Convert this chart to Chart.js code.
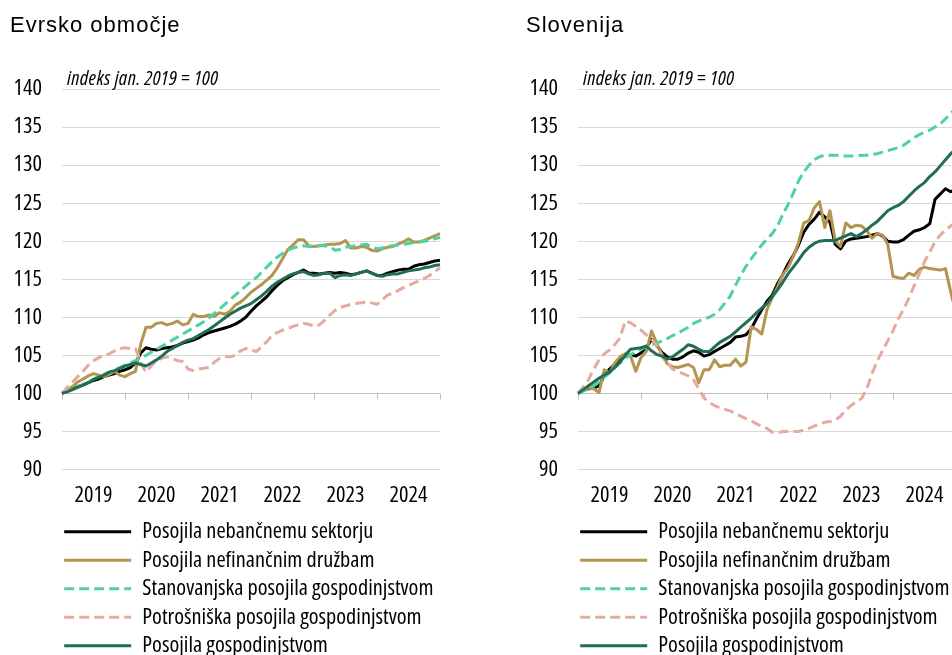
<!DOCTYPE html>
<html lang="sl">
<head>
<meta charset="utf-8">
<title>Posojila - indeks jan. 2019 = 100</title>
<script src="https://cdn.jsdelivr.net/npm/chart.js@4.4.1/dist/chart.umd.min.js"></script>
<style>
  html, body { margin: 0; padding: 0; background: #fff; overflow: hidden; }
  .panel { position: absolute; top: 0; width: 516px; height: 667px; }
  #euro { left: 0; }
  #slo { left: 516px; }
</style>
</head>
<body>
<div class="panel" id="euro"><canvas id="euroChart" width="516" height="667"></canvas></div>
<div class="panel" id="slo"><canvas id="sloChart" width="516" height="667"></canvas></div>
<script>
// series names (legend order)
var seriesNames = [
  'Posojila nebančnemu sektorju',
  'Posojila nefinančnim družbam',
  'Stanovanjska posojila gospodinjstvom',
  'Potrošniška posojila gospodinjstvom',
  'Posojila gospodinjstvom'
];

// monthly categories, jan 2019 - jan 2025
var years = ['2019', '2020', '2021', '2022', '2023', '2024', '2025'];
var months = [];
years.forEach(function (y) {
  for (var m = 1; m <= 12; m++) months.push(y + '-' + (m < 10 ? '0' : '') + m);
});
months = months.slice(0, 73);

var yTicks = { min: 90, max: 140, step: 5 };

// Evrsko območje
var euroTotal = [
  100.0, 100.3, 100.6, 100.9, 101.1, 101.4, 101.7, 101.9, 102.2, 102.4, 102.6, 102.9,
  103.1, 103.4, 104.0, 105.3, 106.0, 105.8, 105.7, 105.9, 106.0, 106.1, 106.3, 106.6,
  106.8, 107.0, 107.3, 107.7, 108.0, 108.2, 108.4, 108.6, 108.8, 109.1, 109.5, 110.0,
  110.8, 111.5, 112.1, 112.7, 113.5, 114.2, 114.8, 115.2, 115.6, 115.9, 116.2, 115.8,
  115.8, 115.7, 115.8, 115.9, 115.8, 115.9, 115.8, 115.6, 115.7, 115.9, 116.1, 115.8,
  115.5, 115.5, 115.8, 116.0, 116.2, 116.3, 116.3, 116.7, 116.9, 117.0, 117.2, 117.4,
  117.5
];
var euroNfc = [
  100.0, 100.5, 100.9, 101.5, 101.9, 102.3, 102.6, 102.4, 102.2, 102.5, 102.9, 102.4,
  102.2, 102.6, 102.9, 106.5, 108.7, 108.7, 109.2, 109.3, 109.0, 109.2, 109.5, 109.0,
  109.2, 110.4, 110.1, 110.1, 110.3, 110.1, 110.6, 110.4, 110.8, 111.6, 112.0, 112.6,
  113.3, 113.8, 114.3, 114.9, 115.5, 116.5, 117.7, 118.9, 119.5, 120.2, 120.2, 119.4,
  119.3, 119.4, 119.5, 119.6, 119.6, 119.7, 120.1, 119.1, 119.1, 119.3, 119.2, 118.8,
  118.7, 119.0, 119.2, 119.3, 119.6, 119.9, 120.3, 119.9, 119.9, 120.1, 120.4, 120.7,
  121.0
];
var euroHousing = [
  100.0, 100.3, 100.6, 100.9, 101.2, 101.5, 101.9, 102.2, 102.5, 102.8, 103.1, 103.4,
  103.7, 104.0, 104.3, 104.7, 105.0, 105.4, 105.8, 106.2, 106.6, 107.0, 107.4, 107.8,
  108.2, 108.6, 109.0, 109.4, 109.9, 110.5, 111.1, 111.7, 112.3, 112.9, 113.5, 114.1,
  114.7, 115.2, 115.9, 116.6, 117.3, 117.9, 118.4, 118.8, 119.1, 119.3, 119.4, 119.3,
  119.3, 119.4, 119.4, 119.3, 118.8, 118.9, 119.2, 119.3, 119.4, 119.5, 119.6, 119.2,
  119.0, 119.1, 119.3, 119.4, 119.5, 119.6, 119.7, 119.8, 119.9, 120.0, 120.1, 120.3,
  120.5
];
var euroConsumer = [
  100.0, 100.8, 101.5, 102.2, 102.9, 103.7, 104.3, 104.7, 105.0, 105.2, 105.6, 105.9,
  106.0, 105.9, 105.9, 104.0, 102.8, 103.6, 104.3, 104.6, 104.8, 104.6, 104.3, 104.2,
  103.2, 103.0, 103.2, 103.3, 103.4, 104.1, 104.6, 104.8, 104.8, 105.0, 105.6, 105.9,
  105.7, 105.5, 106.1, 106.8, 107.6, 108.0, 108.3, 108.5, 108.8, 109.0, 109.2, 109.1,
  108.8, 109.0, 109.6, 110.3, 110.9, 111.3, 111.5, 111.7, 111.8, 111.9, 112.0, 111.9,
  111.7, 112.3, 112.9, 113.2, 113.5, 113.9, 114.2, 114.5, 114.8, 115.1, 115.5, 116.0,
  116.5
];
var euroHouseholds = [
  100.0, 100.2, 100.5, 100.8, 101.1, 101.4, 101.8, 102.1, 102.4, 102.8, 103.0, 103.3,
  103.6, 103.8, 104.0, 103.8, 103.6, 104.0, 104.4, 104.9, 105.5, 105.9, 106.3, 106.7,
  107.0, 107.2, 107.6, 108.0, 108.4, 108.9, 109.4, 109.9, 110.4, 110.8, 111.2, 111.5,
  111.8, 112.3, 112.8, 113.4, 114.1, 114.6, 115.0, 115.4, 115.7, 115.9, 116.0, 115.7,
  115.5, 115.6, 115.8, 115.8, 115.2, 115.5, 115.6, 115.5, 115.7, 115.9, 116.1, 115.8,
  115.5, 115.4, 115.6, 115.7, 115.7, 115.9, 116.1, 116.2, 116.3, 116.5, 116.6, 116.8,
  116.9
];

// Slovenija
var sloTotal = [
  100.0, 100.4, 100.6, 100.7, 101.0, 102.3, 103.2, 103.8, 104.4, 104.9, 105.1, 104.9,
  105.3, 106.0, 107.1, 106.3, 105.4, 104.8, 104.5, 104.5, 104.8, 105.3, 105.6, 105.4,
  104.9, 105.1, 105.5, 105.9, 106.3, 106.7, 107.4, 107.5, 107.7, 108.5, 109.8, 111.0,
  112.1, 112.9, 114.4, 115.6, 117.0, 118.1, 119.5, 121.2, 122.2, 122.9, 123.8, 123.2,
  122.5, 119.6, 119.0, 120.0, 120.3, 120.4, 120.5, 120.6, 120.8, 121.0, 120.7, 120.0,
  119.9, 119.9, 120.2, 120.8, 121.3, 121.5, 121.8, 122.3, 125.5, 126.2, 126.9, 126.5,
  126.8
];
var sloNfc = [
  100.0, 100.5, 100.7, 100.6, 100.1, 103.1, 102.7, 104.0, 104.8, 105.2, 104.9, 102.9,
  104.7, 105.5, 108.2, 106.6, 105.1, 103.9, 103.5, 103.4, 103.6, 103.8, 103.4, 101.4,
  103.1, 103.1, 104.4, 103.5, 103.7, 103.7, 104.5, 103.6, 104.1, 108.8, 108.4, 107.8,
  111.0, 112.6, 114.0, 115.6, 116.5, 118.0, 119.8, 122.4, 122.7, 124.4, 125.2, 121.8,
  124.0, 120.0, 119.3, 122.4, 121.8, 122.1, 122.0, 121.4, 120.4, 121.0, 120.8, 119.6,
  115.4, 115.2, 115.1, 115.8, 115.5, 116.3, 116.6, 116.4, 116.3, 116.2, 116.4, 113.3,
  110.5
];
var sloHousing = [
  100.0, 100.3, 100.6, 101.0, 101.5, 102.1, 102.7, 103.4, 104.0, 104.6, 105.1, 105.5,
  105.8, 106.1, 106.4, 106.6, 106.9, 107.2, 107.6, 107.9, 108.3, 108.7, 109.2, 109.5,
  109.8, 110.0, 110.4, 111.0, 111.9, 112.8, 114.2, 115.5, 116.7, 117.7, 118.6, 119.5,
  120.3, 121.0, 122.0, 123.5, 124.8, 126.3, 127.9, 129.1, 130.0, 130.7, 131.1, 131.3,
  131.3, 131.3, 131.3, 131.2, 131.2, 131.2, 131.3, 131.3, 131.4, 131.5, 131.7, 131.9,
  132.1, 132.3, 132.6, 133.1, 133.6, 134.0, 134.3, 134.6, 135.0, 135.4, 136.1, 136.8,
  137.5
];
var sloConsumer = [
  100.0, 100.9, 101.8, 103.2, 104.4, 105.2, 105.7, 106.4, 107.3, 109.5, 109.3, 108.8,
  108.3, 107.7, 107.2, 106.2, 104.8, 104.0, 103.2, 102.9, 102.6, 102.3, 101.8, 100.6,
  99.4, 98.8, 98.4, 98.1, 97.9, 97.7, 97.3, 97.0, 96.7, 96.4, 96.0, 95.7,
  95.4, 94.9, 94.8, 95.0, 95.0, 95.0, 95.0, 95.2, 95.4, 95.7, 96.0, 96.2,
  96.3, 96.5, 97.0, 97.8, 98.4, 98.9, 99.3, 100.6, 102.6, 104.3, 105.6, 106.9,
  108.2, 109.8, 111.0, 112.5, 114.1, 115.7, 117.3, 118.6, 119.9, 120.8, 121.5, 122.0,
  122.5
];
var sloHouseholds = [
  100.0, 100.5, 101.0, 101.5, 102.0, 102.4, 102.8, 103.4, 104.1, 105.0, 105.8, 105.9,
  106.0, 106.2, 105.6, 105.1, 104.9, 104.5, 104.8, 105.3, 105.8, 106.4, 106.2, 105.8,
  105.5, 105.5, 106.1, 106.7, 107.1, 107.5, 108.1, 108.7, 109.3, 109.9, 110.6, 111.2,
  111.8, 112.7, 113.6, 114.6, 115.7, 116.6, 117.5, 118.5, 119.2, 119.7, 120.0, 120.1,
  120.1, 120.1, 120.4, 120.7, 121.0, 120.6, 121.0, 121.5, 122.1, 122.6, 123.3, 124.0,
  124.4, 124.7, 125.2, 125.9, 126.6, 127.2, 127.7, 128.5, 129.1, 129.9, 130.7, 131.5,
  132.1
];

// the original uses a narrow sans (Arial Narrow); pick a condensed face if one is installed
// and size it so the text keeps the original width
function pickNarrow() {
  var c = document.createElement('canvas').getContext('2d');
  var sample = 'Posojila nebančnemu sektorju 2019';
  c.font = "100px 'Liberation Sans', monospace";
  var base = c.measureText(sample).width;
  var cands = [
    ["'Liberation Sans Narrow'", ''],
    ["'Arial Narrow'", ''],
    ["'Liberation Sans'", 'condensed'],
    ["'Roboto Condensed'", ''],
    ['Roboto', 'condensed'],
    ["'Noto Sans'", 'condensed'],
    ["'Open Sans'", 'condensed'],
    ["'DejaVu Sans Condensed'", ''],
    ["'DejaVu Sans'", 'condensed']
  ];
  for (var i = 0; i < cands.length; i++) {
    c.font = 'normal normal ' + (cands[i][1] ? cands[i][1] + ' ' : '') + '100px ' + cands[i][0] + ', monospace';
    var r = c.measureText(sample).width / base;
    if (r > 0.7 && r < 0.88) return { family: cands[i][0], stretch: cands[i][1], ratio: r };
  }
  return { family: "'Liberation Sans'", stretch: '', ratio: 1 };
}

var nf = pickNarrow();
var narrow = nf.family + ", 'Liberation Sans', Arial, sans-serif";
var fontWeight = nf.stretch ? 'normal ' + nf.stretch : null;
var fontScale = Math.min(1.1, 0.82 / nf.ratio);
var fs = function (px) { return Math.round(px * fontScale * 10) / 10; };
var legendRow = 28.5;

var colors = ['#000000', '#b39451', '#4fd2a1', '#e6aaa1', '#1f6e55'];
var dashes = [[], [], [10, 5], [10, 5], []];

Chart.defaults.font.family = narrow;
Chart.defaults.font.weight = fontWeight;
Chart.defaults.color = '#000';

// panel title, index note, year tick marks on the 100 line, legend offset
var panelText = {
  id: 'panelText',
  afterLayout: function (chart) {
    var lg = chart.legend;
    lg.left = chart.chartArea.left - 4;
    lg.right = chart.width;
    lg.width = lg.right - lg.left;
  },
  beforeDatasetsDraw: function (chart) {
    var ctx = chart.ctx, x = chart.scales.x, y = chart.scales.y;
    var y100 = Math.round(y.getPixelForValue(100)) + 0.5;
    ctx.save();
    ctx.strokeStyle = '#bfbfbf';
    ctx.lineWidth = 1;
    ctx.beginPath();
    months.forEach(function (m, i) {
      if (i % 12 === 0) {
        var px = Math.round(x.getPixelForValue(i)) + 0.5;
        ctx.moveTo(px, y100);
        ctx.lineTo(px, y100 + 6);
      }
    });
    ctx.stroke();
    ctx.restore();
  },
  afterDraw: function (chart, args, opts) {
    var ctx = chart.ctx, area = chart.chartArea;
    ctx.save();
    ctx.fillStyle = '#000';
    ctx.textAlign = 'left';
    ctx.textBaseline = 'alphabetic';
    ctx.font = "22px 'Liberation Sans', Arial, sans-serif";
    ctx.letterSpacing = '1px';
    ctx.fillText(opts.title, 10, 32);
    ctx.letterSpacing = '0.4px';
    ctx.font = 'italic ' + (fontWeight || 'normal') + ' ' + fs(19) + 'px ' + narrow;
    ctx.fillText(opts.note, area.left + 5, area.top - 4);
    ctx.restore();
  }
};

function makeChart(id, title, values) {
  return new Chart(document.getElementById(id), {
    type: 'line',
    data: {
      labels: months,
      datasets: seriesNames.map(function (name, i) {
        return {
          label: name,
          data: values[i],
          borderColor: colors[i],
          backgroundColor: colors[i],
          borderWidth: 3,
          borderDash: dashes[i],
          borderJoinStyle: 'round',
          pointRadius: 0,
          tension: 0,
          order: 5 - i
        };
      })
    },
    options: {
      responsive: false,
      animation: false,
      events: [],
      layout: { padding: { top: 89, left: 0, right: 76, bottom: 0 } },
      scales: {
        x: {
          type: 'category',
          grid: { display: false },
          border: { display: false },
          afterFit: function (s) { s.height = 45; },
          ticks: {
            autoSkip: false,
            maxRotation: 0,
            minRotation: 0,
            padding: 5,
            color: '#000',
            font: { size: fs(21) },
            callback: function (v, i) { return i % 12 === 6 ? months[i].slice(0, 4) : ''; }
          }
        },
        y: {
          min: yTicks.min,
          max: yTicks.max,
          grid: {
            drawTicks: false,
            color: function (c) { return c.tick && c.tick.value === 100 ? '#bfbfbf' : '#d9d9d9'; }
          },
          border: { display: false },
          afterFit: function (s) { s.width = 62; },
          ticks: { stepSize: yTicks.step, padding: 20, color: '#000', font: { size: fs(21) } }
        }
      },
      plugins: {
        tooltip: { enabled: false },
        legend: {
          position: 'bottom',
          align: 'start',
          fullSize: false,
          labels: {
            usePointStyle: true,
            pointStyleWidth: 67,
            padding: legendRow - fs(21),
            color: '#000',
            font: { size: fs(21) },
            sort: function (a, b) { return a.datasetIndex - b.datasetIndex; },
            generateLabels: function (chart) {
              return Chart.defaults.plugins.legend.labels.generateLabels(chart).map(function (item) {
                var ds = chart.data.datasets[item.datasetIndex];
                item.pointStyle = 'line';
                item.lineDash = ds.borderDash;
                item.lineWidth = ds.borderWidth;
                item.strokeStyle = ds.borderColor;
                return item;
              });
            }
          }
        },
        panelText: { title: title, note: 'indeks jan. 2019 = 100' }
      }
    },
    plugins: [panelText]
  });
}

makeChart('euroChart', 'Evrsko območje', [euroTotal, euroNfc, euroHousing, euroConsumer, euroHouseholds]);
makeChart('sloChart', 'Slovenija', [sloTotal, sloNfc, sloHousing, sloConsumer, sloHouseholds]);
</script>
</body>
</html>
